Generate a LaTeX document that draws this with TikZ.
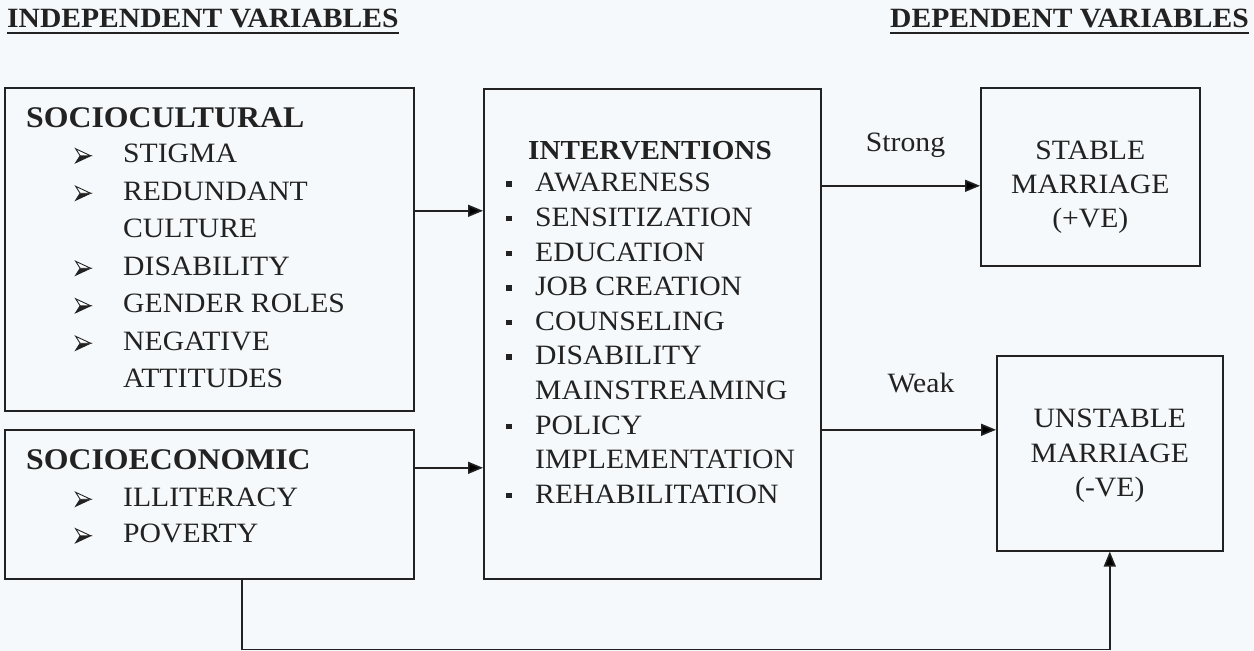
\documentclass[tikz,border=0pt]{standalone}
\usepackage{fontspec}
\setmainfont{Liberation Serif}[FakeStretch=1.06]
\usetikzlibrary{positioning,arrows.meta,calc}
\definecolor{cink}{HTML}{222222}
\definecolor{cpaper}{HTML}{F6F9FB}
\newcommand{\arrglyph}{\tikz[baseline=0pt, x=1pt, y=1pt, line width=0.9pt, line join=miter]{%
  \filldraw[draw=cink, fill=cink] (0,0) -- (15,7) -- (4.5,7) -- cycle;
  \filldraw[draw=cink, fill=white] (0,14) -- (15,7) -- (4.5,7) -- cycle;}}
\newcommand{\arrbul}{\hspace*{49pt}\makebox[48pt][l]{\arrglyph}}
\newcommand{\arrcont}{\hspace*{97pt}}
\newcommand{\sqbul}{\makebox[29pt][l]{\rule[5pt]{5.5pt}{5.5pt}}}
\newcommand{\sqcont}{\hspace*{29pt}}

\begin{document}
\begin{tikzpicture}[
  x=1pt, y=-1pt,
  font=\fontsize{28}{34.6}\selectfont,
  every node/.style={text=cink},
  box/.style={draw=cink, line width=1.6pt, anchor=north west, inner sep=0pt, fill=cpaper},
  txt/.style={align=left, inner sep=0pt},
  ctxt/.style={align=center, inner sep=0pt},
  flow/.style={-{Triangle[length=15pt,width=12pt]}, draw=cink, line width=1.6pt},
  hdr/.style={font=\bfseries\fontsize{27.9}{30}\selectfont, anchor=base west, inner sep=0pt},
  lbl/.style={inner sep=0pt},
]
\fill[cpaper] (0,0) rectangle (1254,651);
\useasboundingbox (0,0) rectangle (1254,651);

% ---- headings ----
\node[hdr] (indep) at (7,27) {INDEPENDENT VARIABLES};
\node[hdr] (dep) at (890,27) {DEPENDENT VARIABLES};
\draw[cink, line width=2pt] ([yshift=-6pt]indep.base west) -- ([yshift=-6pt]indep.base east);
\draw[cink, line width=2pt] ([yshift=-6pt]dep.base west) -- ([yshift=-6pt]dep.base east);

% ---- boxes ----
\node[box, minimum width=409pt, minimum height=323pt] (soccult) at (4,87) {};
\node[box, minimum width=409pt, minimum height=149pt] (socecon) at (4,429) {};
\node[box, minimum width=337pt, minimum height=490pt] (interv) at (483,88) {};
\node[box, minimum width=219pt, minimum height=178pt] (stable) at (980,87) {};
\node[box, minimum width=226pt, minimum height=195pt] (unstable) at (996,355) {};

% ---- box texts ----
\node[txt, font=\fontsize{28}{37.5}\selectfont, below right=20.7pt and 22pt of soccult.north west] (soccultlist)
  {{\bfseries\fontsize{30}{37.5}\selectfont SOCIOCULTURAL}\\[-2.5pt]
   \arrbul STIGMA\\ \arrbul REDUNDANT\\ \arrcont CULTURE\\ \arrbul DISABILITY\\
   \arrbul GENDER ROLES\\ \arrbul NEGATIVE\\ \arrcont ATTITUDES};
\node[txt, font=\fontsize{28}{36.5}\selectfont, below right=20.7pt and 22pt of socecon.north west] (soceconlist)
  {{\bfseries\fontsize{30}{36.5}\selectfont SOCIOECONOMIC}\\
   \arrbul ILLITERACY\\ \arrbul POVERTY};
\node[txt, font=\fontsize{28}{34.6}\selectfont, below right=53.4pt and 23pt of interv.north west] (intervlist)
  {{\bfseries\fontsize{27.5}{34.6}\selectfont\hspace*{22pt}INTERVENTIONS}\\[-2.6pt]
   \sqbul AWARENESS\\ \sqbul SENSITIZATION\\ \sqbul EDUCATION\\ \sqbul JOB CREATION\\
   \sqbul COUNSELING\\ \sqbul DISABILITY\\ \sqcont MAINSTREAMING\\ \sqbul POLICY\\
   \sqcont IMPLEMENTATION\\ \sqbul REHABILITATION};
\node[ctxt, font=\fontsize{28}{34}\selectfont, below=54pt of stable.north] (stabletxt) {STABLE\\ MARRIAGE\\ (+VE)};
\node[ctxt, font=\fontsize{28}{34.5}\selectfont, below=54pt of unstable.north] (unstabletxt) {UNSTABLE\\ MARRIAGE\\ (-VE)};

% ---- flows ----
\coordinate (a1) at ([yshift=38.5pt]soccult.east);
\coordinate (a2) at ([yshift=36.5pt]socecon.east);
\coordinate (a3) at ([yshift=-9pt]stable.west);
\coordinate (a4) at ([yshift=23.5pt]unstable.west);
\draw[flow] (a1) -- (a1 -| interv.west);
\draw[flow] (a2) -- (a2 -| interv.west);
\draw[flow] (a3 -| interv.east) -- node[lbl, above=27pt, pos=0.53] (strong) {Strong} (a3);
\draw[flow] (a4 -| interv.east) -- node[lbl, above=36pt, pos=0.57] (weak) {Weak} (a4);
\draw[flow] ([xshift=32.5pt]socecon.south) -- ++(0,70) -| (unstable.south);
\end{tikzpicture}
\end{document}
